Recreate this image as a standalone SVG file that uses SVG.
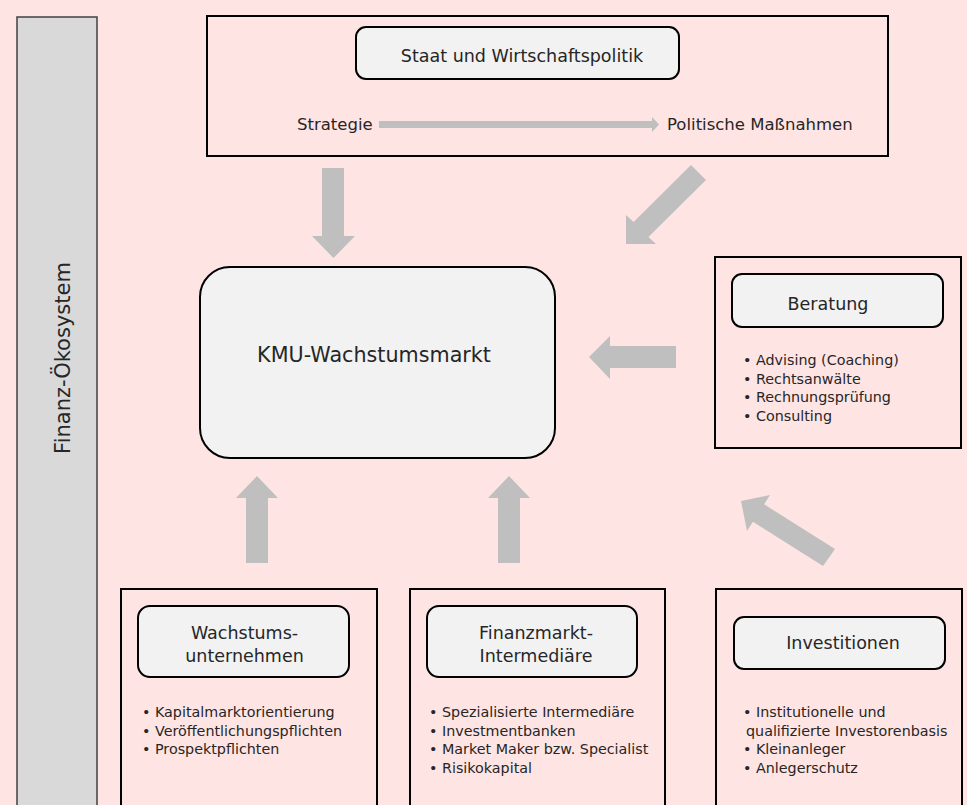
<svg xmlns="http://www.w3.org/2000/svg" width="967" height="805" viewBox="0 0 967 805">
<style>
text{font-family:"DejaVu Sans","Liberation Sans",sans-serif;fill:#262626}
.outer{fill:#ffe4e4;stroke:#000;stroke-width:2}
.inner{fill:#f2f2f2;stroke:#000;stroke-width:2}
.arr{fill:#bfbfbf}
.t{font-size:17.5px;text-anchor:middle}
.b{font-size:14.3px}
.s{font-size:16.5px}
</style>
<rect x="0" y="0" width="967" height="805" fill="#ffe4e4"/>
<g id="finanz-oekosystem">
<rect x="17" y="17" width="80" height="800" fill="#d9d9d9" stroke="#404040" stroke-width="1.5"/>
<text transform="translate(70 358) rotate(-90)" font-size="21" text-anchor="middle">Finanz-Ökosystem</text>
</g>
<g id="staat">
<rect class="outer" x="207" y="16" width="681" height="140"/>
<rect class="inner" x="356" y="27" width="323" height="52" rx="10"/>
<text class="t" x="522" y="62">Staat und Wirtschaftspolitik</text>
<text class="s" x="297" y="130">Strategie</text>
<text class="s" x="667" y="130">Politische Maßnahmen</text>
<polygon class="arr" points="379,121 652,121 652,117 659,124.5 652,132 652,128 379,128"/>
</g>
<g id="kmu">
<rect class="inner" x="200" y="267" width="355" height="191" rx="30"/>
<text x="374" y="362" font-size="20.7" text-anchor="middle">KMU-Wachstumsmarkt</text>
</g>
<g id="beratung">
<rect class="outer" x="715" y="257" width="246" height="191"/>
<rect class="inner" x="732" y="274" width="211" height="53" rx="10"/>
<text class="t" x="828" y="310">Beratung</text>
<text class="b" x="743" y="365">• Advising (Coaching)</text>
<text class="b" x="743" y="383.5">• Rechtsanwälte</text>
<text class="b" x="743" y="402">• Rechnungsprüfung</text>
<text class="b" x="743" y="420.5">• Consulting</text>
</g>
<g id="wachstumsunternehmen">
<rect class="outer" x="121" y="589" width="256" height="230"/>
<rect class="inner" x="138" y="606" width="211" height="71" rx="12"/>
<text class="t" x="244.5" y="639">Wachstums-</text>
<text class="t" x="244.5" y="662">unternehmen</text>
<text class="b" x="142" y="717">• Kapitalmarktorientierung</text>
<text class="b" x="142" y="735.5">• Veröffentlichungspflichten</text>
<text class="b" x="142" y="754">• Prospektpflichten</text>
</g>
<g id="intermediaere">
<rect class="outer" x="410" y="589" width="255" height="230"/>
<rect class="inner" x="427" y="606" width="210" height="71" rx="12"/>
<text class="t" x="536" y="639">Finanzmarkt-</text>
<text class="t" x="536" y="662">Intermediäre</text>
<text class="b" x="429" y="717">• Spezialisierte Intermediäre</text>
<text class="b" x="429" y="735.5">• Investmentbanken</text>
<text class="b" x="429" y="754">• Market Maker bzw. Specialist</text>
<text class="b" x="429" y="772.5">• Risikokapital</text>
</g>
<g id="investitionen">
<rect class="outer" x="716" y="589" width="246" height="230"/>
<rect class="inner" x="734" y="617" width="211" height="52" rx="10"/>
<text class="t" x="843" y="649">Investitionen</text>
<text class="b" x="743" y="717">• Institutionelle und</text>
<text class="b" x="746" y="735.5">qualifizierte Investorenbasis</text>
<text class="b" x="743" y="754">• Kleinanleger</text>
<text class="b" x="743" y="772.5">• Anlegerschutz</text>
</g>
<g id="connectors">
<polygon class="arr" points="322,168 344,168 344,236 355,236 333.5,258 312,236 322,236"/>
<polygon class="arr" points="691,165 706,180 648.4,236.9 656,244 626,244 626,215 633.6,222.1"/>
<polygon class="arr" points="676,346 676,368 610,368 610,379 589,357 610,336 610,346"/>
<polygon class="arr" points="246,563 268,563 268,498 278,498 257,476 236,498 246,498"/>
<polygon class="arr" points="498,563 520,563 520,498 530,498 509,476 488,498 498,498"/>
<polygon class="arr" points="835,549 764.1,504.3 770,495 741,501 747,531 752.9,521.7 823,566"/>
</g>
</svg>
